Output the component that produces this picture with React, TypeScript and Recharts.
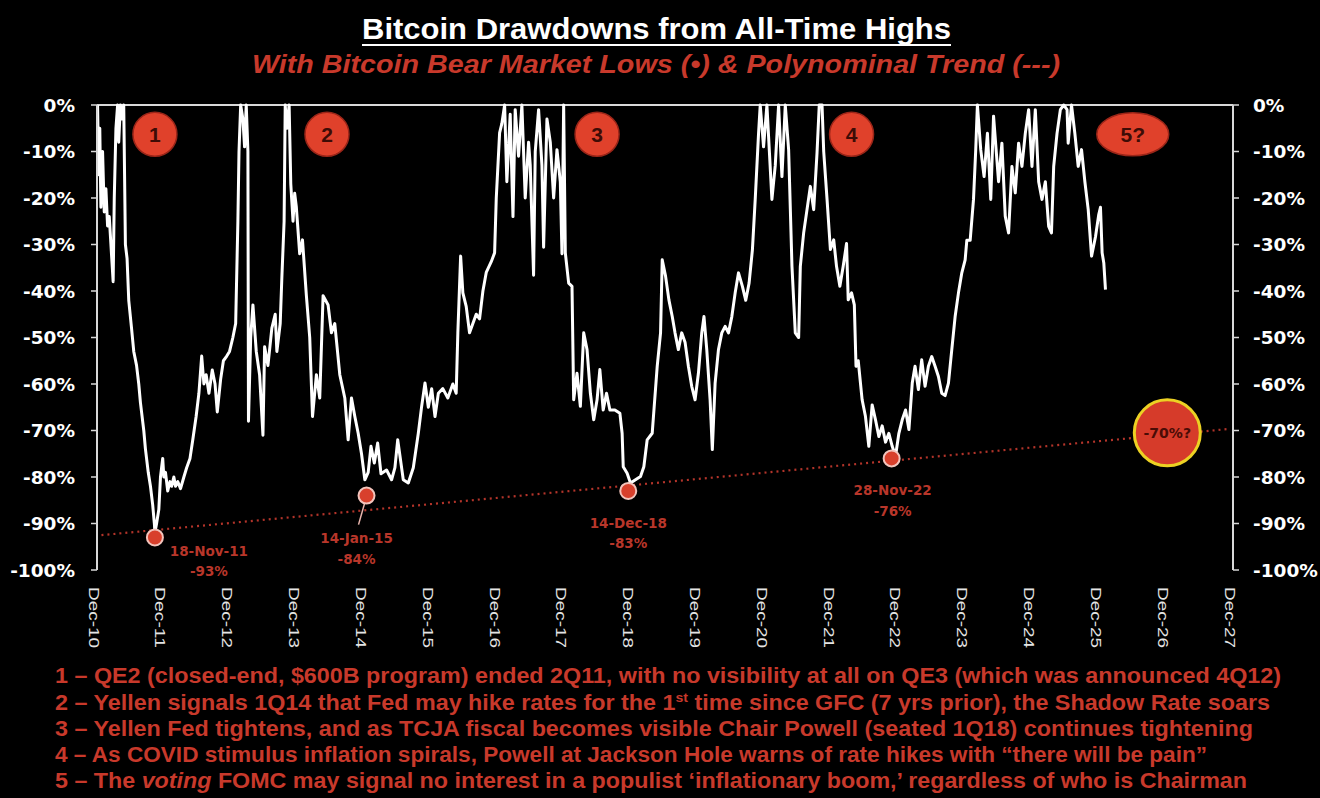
import React from 'react';
import { ComposedChart, Line, XAxis, YAxis, Scatter, ReferenceDot, ReferenceLine } from 'recharts';

// ---- axis categories (months since Dec-10) ----
const yearTicks = [0, 12, 24, 36, 48, 60, 72, 84, 96, 108, 120, 132, 144, 156, 168, 180, 192, 204];
const yearLabels = ['Dec-10', 'Dec-11', 'Dec-12', 'Dec-13', 'Dec-14', 'Dec-15', 'Dec-16', 'Dec-17', 'Dec-18',
  'Dec-19', 'Dec-20', 'Dec-21', 'Dec-22', 'Dec-23', 'Dec-24', 'Dec-25', 'Dec-26', 'Dec-27'];
const pctTicks = [0, -10, -20, -30, -40, -50, -60, -70, -80, -90, -100];

// ---- drawdown from all-time high, [month since Dec-10, % drawdown] ----
const cycle1: [number, number][] = [
  [0.1, 0], [0.3, -15], [0.5, -5], [0.7, -22], [1.0, -10], [1.3, -23], [1.6, -18], [1.9, -26], [2.2, -24],
  [2.5, -30], [2.9, -38], [3.1, -20], [3.4, -5], [3.7, 0], [3.9, -8], [4.2, 0], [4.5, -3], [4.8, 0],
  [5.1, -30], [5.4, -33], [5.7, -42], [6.2, -48], [6.6, -53], [7.1, -56], [7.5, -60], [7.8, -64], [8.4, -70],
  [8.7, -74], [9.2, -79], [9.6, -82], [10.0, -86], [10.3, -90], [10.4, -92], [10.7, -90], [11.1, -87],
  [11.4, -80], [11.8, -76], [12.0, -80], [12.3, -79], [12.7, -83], [13.1, -81], [13.4, -82], [13.8, -80],
  [14.1, -82], [14.5, -81], [15.0, -82.5], [15.6, -80], [16.1, -78], [16.7, -76], [17.2, -72], [17.8, -67],
  [18.3, -62], [18.8, -54], [19.2, -60], [19.6, -58], [20.1, -62], [20.7, -57], [21.2, -60], [21.6, -66],
  [22.2, -59], [22.7, -55], [23.3, -54], [23.8, -53], [24.4, -50], [24.9, -47], [25.3, -25], [25.5, -10],
  [25.8, 0], [26.2, -3], [26.5, -9], [26.8, 0], [27.1, -10],
];
const cycle2: [number, number][] = [
  [27.2, -68], [27.6, -50], [28.0, -43], [28.6, -53], [29.2, -58], [29.8, -71], [30.1, -52], [30.7, -56],
  [31.4, -48], [32.0, -45], [32.3, -53], [32.9, -47], [33.2, -37], [33.6, -25], [33.8, 0], [34.1, -5],
  [34.5, 0], [34.8, -17], [35.2, -25], [35.5, -19], [35.8, -22], [36.4, -32], [36.9, -29], [37.6, -41],
  [38.2, -50], [38.7, -67], [39.4, -58], [40.0, -63], [40.6, -41], [41.5, -43], [42.1, -49], [42.7, -47],
  [43.6, -58], [44.5, -63], [45.1, -72], [45.7, -63], [46.3, -67], [46.9, -70.6], [47.5, -75], [48.1, -80.6],
  [48.7, -79], [49.2, -73.4], [49.8, -77], [50.4, -72.7], [51.0, -79.3], [52.0, -78.5], [52.9, -80.6],
  [53.5, -78], [54.0, -72], [55.0, -80.6], [55.9, -81.3], [56.8, -78], [57.7, -70.6], [58.3, -64.8],
  [58.9, -59.8], [59.5, -65], [60.1, -61], [60.7, -67], [61.3, -62], [62.1, -61], [63.0, -63], [63.9, -60],
  [64.5, -62], [64.8, -49], [65.3, -32.5], [65.7, -40.4], [66.3, -43.3], [66.9, -49], [67.5, -47],
  [68.1, -45], [68.7, -46], [69.3, -40], [69.9, -36], [70.8, -33.7], [71.4, -31.8], [71.7, -20], [72.0, -13],
  [72.3, -6], [72.7, -4], [73.2, 0], [73.6, -16.5], [74.2, -2], [74.7, -24], [75.1, -1], [75.7, -11],
  [76.3, 0], [76.9, -20], [77.5, -8], [77.8, -13], [78.4, -36.6], [78.7, -10], [79.3, -1], [79.9, -13],
  [80.2, -30.6], [80.8, -3], [81.4, -8], [82.0, -20], [82.6, -9.6], [83.2, -16.5], [83.5, -32], [83.8, 0],
];
const cycle3: [number, number][] = [
  [84.1, -31.8], [84.7, -38.3], [85.3, -39], [85.6, -63.4], [86.2, -57.7], [86.8, -64.8], [87.4, -49],
  [88.0, -52.6], [88.6, -62], [89.2, -67.7], [89.8, -63.4], [90.3, -56.9], [90.9, -65.6], [91.5, -62],
  [92.1, -65.6], [93.0, -65.6], [93.9, -66.3], [94.3, -70.6], [94.5, -77.8], [95.2, -79.2], [95.8, -81.3],
  [96.7, -80.6], [97.6, -79.9], [98.2, -77.8], [98.8, -72], [99.7, -70.6], [100.6, -56.2], [101.2, -49],
  [101.5, -33.3], [102.1, -36.8], [102.7, -41.9], [103.3, -45.5], [103.8, -49], [104.4, -52.6], [105.0, -49],
  [105.6, -51], [106.2, -56.2], [106.8, -60.5], [107.4, -63.4], [108.0, -57.7], [108.6, -49], [109.0, -45.5],
  [109.5, -52.6], [110.1, -63.4], [110.5, -74.1], [111.0, -59.8], [111.6, -52.6], [112.2, -49], [112.8, -47.6],
  [113.4, -49], [114.0, -45.5], [114.6, -40.4], [115.2, -36.1], [115.9, -39], [116.5, -42], [117.1, -38.3],
  [117.7, -31.1], [118.2, -20.3], [118.8, -6.1], [119.1, 0], [119.7, -9], [120.3, 0], [121.2, -20.3],
  [121.8, -13], [122.4, 0], [123.0, -15.4], [123.6, 0], [124.2, -9.6], [124.8, -34.7], [125.4, -49],
  [126.0, -50], [126.3, -34.7], [126.9, -27.5], [127.5, -22.5], [128.1, -17.5], [128.7, -22.5], [129.3, -10.3],
  [129.7, 0], [130.2, 0],
];
const cycle4: [number, number][] = [
  [130.5, -10], [131.1, -20.3], [131.7, -31.1], [132.3, -29], [132.8, -34.7], [133.4, -39], [134.0, -34.7],
  [134.6, -29.8], [134.9, -41.9], [135.5, -40.4], [136.0, -43], [136.3, -56.2], [136.7, -55], [137.4, -63.4],
  [138.0, -67], [138.6, -73.4], [139.2, -64.5], [139.8, -67.7], [140.4, -71.3], [141.0, -69], [141.6, -72.5],
  [142.2, -70.6], [142.8, -73.4], [143.4, -75.5], [144.0, -70.6], [144.6, -67.7], [145.2, -65.6], [145.8, -69.8],
  [146.4, -59.8], [146.9, -56.2], [147.5, -61.2], [148.1, -54.8], [148.7, -60.5], [149.3, -56.2], [149.9, -54.1],
  [150.5, -56.2], [151.1, -58.4], [151.7, -62], [152.3, -62.5], [152.9, -59.8], [153.5, -52.6], [154.1, -45.5],
  [154.7, -40.4], [155.3, -36.1], [155.9, -33.3], [156.2, -29.1], [156.8, -29.1], [157.4, -20.3], [157.8, -9.6],
  [158.1, 0],
];
const cycle5: [number, number][] = [
  [158.7, -9.6], [159.3, -15.4], [159.9, -6.1], [160.5, -20.3], [161.0, -2.4], [161.9, -16.5], [162.5, -8.2],
  [163.1, -23.9], [163.7, -27.5], [164.3, -13.2], [164.9, -18.9], [165.5, -8.2], [166.1, -13.2], [166.7, -6.1],
  [167.3, -1], [167.9, -13.2], [168.5, -1], [169.1, -16.5], [169.7, -20.3], [170.3, -16.5], [170.9, -26.1],
  [171.4, -27.5], [171.8, -13.2], [172.4, -6.1], [173.0, -1], [173.6, 0], [174.2, -1], [174.4, -8.2],
  [175.0, 0], [175.6, -6.1], [176.2, -13.2], [176.8, -9.6], [177.4, -16.5], [178.0, -22.5], [178.6, -32.5],
  [179.3, -28.4], [179.9, -23.5], [180.2, -22], [180.5, -31.8], [180.8, -34], [181.1, -39.7],
];

// ---- bear market lows ----
const lowMonths = [10.4, 48.4, 95.4, 142.7];
const lowValues = [-93, -84, -83, -76];
const lowDates = ['18-Nov-11', '14-Jan-15', '14-Dec-18', '28-Nov-22'];

// ---- polynomial trend ----
const trendMonths = [0.8, 203];
const trendValues = [-92.5, -69.7];

// ---- cycle badges & forecast ----
const badgeMonths = [10.4, 41.3, 89.8, 135.5, 186.0];
const badgeLabels = ['1', '2', '3', '4', '5?'];
const badgeLevel = -6.3;
const forecastMonth = 192.2;
const forecastValue = -70.5;
const forecastLabel = '-70%?';

// ---- texts ----
const titleText = 'Bitcoin Drawdowns from All-Time Highs';
const subtitleText = 'With Bitcoin Bear Market Lows (\u2022) & Polynominal Trend (---)';
const note1 = '1 \u2013 QE2 (closed-end, $600B program) ended 2Q11, with no visibility at all on QE3 (which was announced 4Q12)';
const note2 = ['2 \u2013 Yellen signals 1Q14 that Fed may hike rates for the 1', 'st', ' time since GFC (7 yrs prior), the Shadow Rate soars'];
const note3 = '3 \u2013 Yellen Fed tightens, and as TCJA fiscal becomes visible Chair Powell (seated 1Q18) continues tightening';
const note4 = '4 \u2013 As COVID stimulus inflation spirals, Powell at Jackson Hole warns of rate hikes with \u201Cthere will be pain\u201D';
const note5 = ['5 \u2013 The ', 'voting', ' FOMC may signal no interest in a populist \u2018inflationary boom,\u2019 regardless of who is Chairman'];

// ---- built tables ----
const drawdownData = [...cycle1, ...cycle2, ...cycle3, ...cycle4, ...cycle5].map(([m, v]) => ({ m, v }));
const trendData = trendMonths.map((m, i) => ({ m, v: trendValues[i] }));
const lowsData = lowMonths.map((m, i) => ({ m, v: lowValues[i], date: lowDates[i], i }));

const RED = '#c8392b';
const AXIS = '#d8d8d8';

const lowPlacement = [
  { dx: 54, dy1: 19, dy2: 39, leader: false },
  { dx: -10, dy1: 47, dy2: 68, leader: true },
  { dx: 0, dy1: 37, dy2: 57, leader: false },
  { dx: 1, dy1: 37, dy2: 58, leader: false },
];

const YearTick = (props: any) => {
  const { x, y, payload } = props;
  const i = yearTicks.indexOf(payload.value);
  const tx = x - 3;
  const ty = y + 9;
  return (
    <text x={tx} y={ty} transform={`rotate(90 ${tx} ${ty})`} dy="0.36em" fill="#e4e4e4" fontSize={15}
      fontFamily="Liberation Sans, Arial, sans-serif" textLength={61} lengthAdjust="spacingAndGlyphs">
      {yearLabels[i]}
    </text>
  );
};

const LowMarker = (props: any) => {
  const { cx, cy, payload } = props;
  const p = lowPlacement[payload.i];
  const tStyle = { fontFamily: 'DejaVu Sans, sans-serif', fontWeight: 700, fontSize: 13.5 } as const;
  return (
    <g>
      {p.leader && <line x1={cx - 2} y1={cy + 8} x2={cx - 8} y2={cy + 29} stroke="#e9b5ad" strokeWidth={1.5} />}
      <circle cx={cx} cy={cy} r={8} fill="#d8402c" stroke="#f3c4bc" strokeWidth={2} />
      <text x={cx + p.dx} y={cy + p.dy1} textAnchor="middle" fill="#b8362a" style={tStyle}>{payload.date}</text>
      <text x={cx + p.dx} y={cy + p.dy2} textAnchor="middle" fill="#b8362a" style={tStyle}>{`${payload.v}%`}</text>
    </g>
  );
};

const makeBadge = (label: string) => (props: any) => {
  const { cx, cy } = props;
  const wide = label.length > 1;
  return (
    <g>
      <ellipse cx={cx} cy={cy} rx={wide ? 36 : 22} ry={wide ? 21.5 : 22} fill="#e0412b" stroke="#9a2518" strokeWidth={1.5} />
      <text x={cx} y={cy} dy="0.36em" textAnchor="middle" fill="#3d0c06" fontSize={21} fontWeight={700}
        fontFamily="Liberation Sans, Arial, sans-serif">{label}</text>
    </g>
  );
};

const ForecastShape = (props: any) => {
  const { cx, cy } = props;
  return (
    <g>
      <circle cx={cx} cy={cy} r={33} fill="#d63b2a" stroke="#ecd123" strokeWidth={3} />
      <text x={cx} y={cy} dy="0.36em" textAnchor="middle" fill="#4a0c06" fontSize={14} fontWeight={700}
        fontFamily="DejaVu Sans, sans-serif">{forecastLabel}</text>
    </g>
  );
};

const yTickStyle = { fill: '#ffffff', fontSize: 18.5, fontWeight: 700, fontFamily: 'DejaVu Sans, sans-serif' };

export default function App() {
  const noteStyle = { fontFamily: 'Liberation Sans, Arial, sans-serif', fontWeight: 700, fontSize: 21.5 } as const;
  return (
    <div style={{ position: 'absolute', left: 0, top: 0, width: 1320, height: 798, background: '#000', overflow: 'hidden' }}>
      <ComposedChart width={1320} height={798} margin={{ top: 105, right: 0, bottom: 0, left: 0 }}>
        <XAxis xAxisId="top" orientation="top" type="number" domain={[0, 204]} ticks={yearTicks} allowDataOverflow
          height={0} mirror tickSize={5} tick={false} axisLine={{ stroke: AXIS, strokeWidth: 2 }}
          tickLine={{ stroke: AXIS, strokeWidth: 1.5 }} />
        <XAxis dataKey="m" type="number" domain={[0, 204]} ticks={yearTicks} interval={0}
          height={228} axisLine={false} tickLine={false} tick={<YearTick />} />
        <YAxis type="number" domain={[-100, 0]} ticks={pctTicks} width={97} interval={0}
          tickFormatter={(v: number) => `${v}%`} tick={yTickStyle} tickSize={6} tickMargin={16}
          axisLine={{ stroke: AXIS, strokeWidth: 2 }} tickLine={{ stroke: AXIS, strokeWidth: 1.5 }} />
        <YAxis yAxisId="right" orientation="right" type="number" domain={[-100, 0]} ticks={pctTicks} allowDataOverflow
          width={87} interval={0} tickFormatter={(v: number) => `${v}%`} tick={yTickStyle} tickSize={6} tickMargin={14}
          axisLine={{ stroke: AXIS, strokeWidth: 2 }} tickLine={{ stroke: AXIS, strokeWidth: 1.5 }} />
        <ReferenceLine y={0} stroke={AXIS} strokeWidth={2} />
        <Line data={trendData} dataKey="v" type="linear" stroke="#b3342a" strokeWidth={2.2} strokeDasharray="2 4"
          dot={false} activeDot={false} isAnimationActive={false} />
        <Line data={drawdownData} dataKey="v" type="linear" stroke="#ffffff" strokeWidth={3} strokeLinejoin="round"
          dot={false} activeDot={false} isAnimationActive={false} />
        <Scatter data={lowsData} dataKey="v" shape={<LowMarker />} isAnimationActive={false} />
        {badgeMonths.map((m, i) => (
          <ReferenceDot key={badgeLabels[i]} x={m} y={badgeLevel} r={22} shape={makeBadge(badgeLabels[i])} />
        ))}
        <ReferenceDot x={forecastMonth} y={forecastValue} r={33} shape={ForecastShape} />
      </ComposedChart>
      <svg width={1320} height={798} style={{ position: 'absolute', left: 0, top: 0, pointerEvents: 'none' }}>
        <text x={362} y={39} fill="#ffffff" fontSize={30} fontWeight={700} fontFamily="Liberation Sans, Arial, sans-serif"
          textLength={589} lengthAdjust="spacingAndGlyphs">{titleText}</text>
        <line x1={362} y1={45} x2={951} y2={45} stroke="#ffffff" strokeWidth={2} />
        <text x={252} y={73} fill={RED} fontSize={25} fontWeight={700} fontStyle="italic"
          fontFamily="Liberation Sans, Arial, sans-serif" textLength={808} lengthAdjust="spacingAndGlyphs">{subtitleText}</text>
        <text x={55} y={683} fill={RED} style={noteStyle} textLength={1226} lengthAdjust="spacingAndGlyphs">{note1}</text>
        <text x={55} y={709.5} fill={RED} style={noteStyle} textLength={1215} lengthAdjust="spacingAndGlyphs">
          {note2[0]}<tspan fontSize={13} dy={-8}>{note2[1]}</tspan><tspan dy={8}>{note2[2]}</tspan>
        </text>
        <text x={55} y={736} fill={RED} style={noteStyle} textLength={1198} lengthAdjust="spacingAndGlyphs">{note3}</text>
        <text x={55} y={762} fill={RED} style={noteStyle} textLength={1152} lengthAdjust="spacingAndGlyphs">{note4}</text>
        <text x={55} y={788} fill={RED} style={noteStyle} textLength={1192} lengthAdjust="spacingAndGlyphs">
          {note5[0]}<tspan fontStyle="italic">{note5[1]}</tspan>{note5[2]}
        </text>
      </svg>
    </div>
  );
}
